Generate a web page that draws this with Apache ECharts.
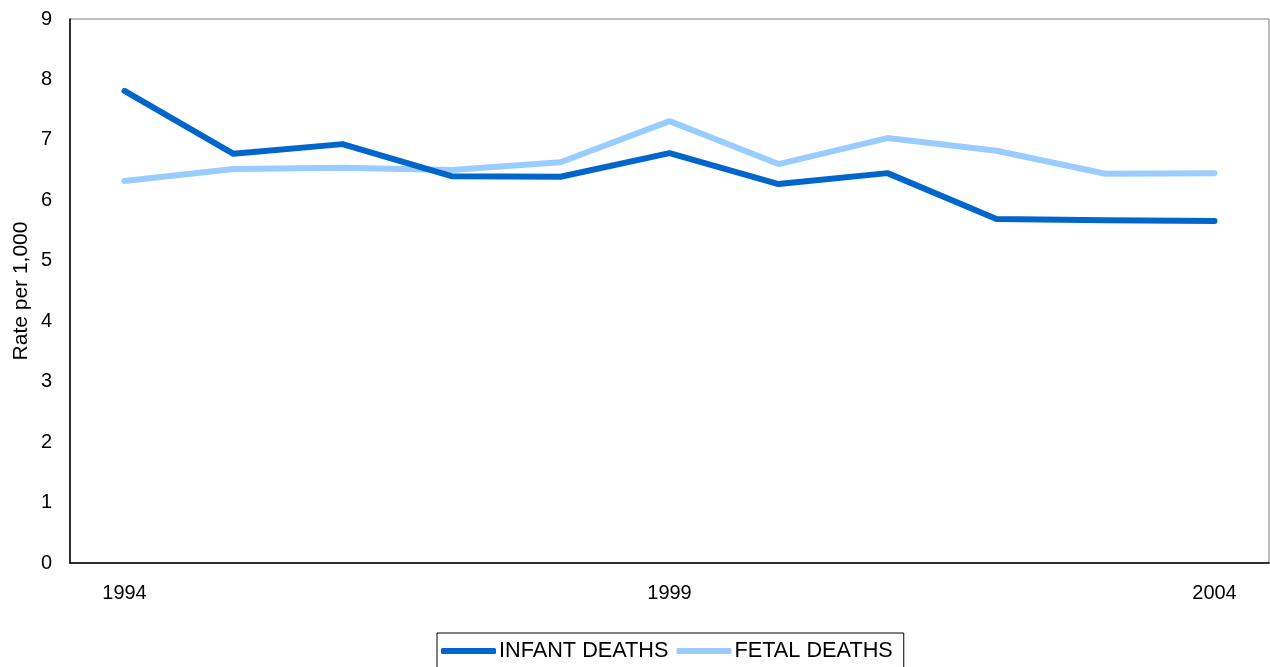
<!DOCTYPE html>
<html>
<head>
<meta charset="utf-8">
<script src="https://cdn.jsdelivr.net/npm/echarts@6/dist/echarts.min.js"></script>
<style>
  html, body { margin: 0; padding: 0; background: #fff; }
  #chart { width: 1270px; height: 667px; }
</style>
</head>
<body>
<div id="chart"></div>
<script>
// Rates per 1,000, by year
const years = ['1994', '1995', '1996', '1997', '1998', '1999', '2000', '2001', '2002', '2003', '2004'];
const infantDeaths = [7.81, 6.77, 6.93, 6.40, 6.39, 6.78, 6.27, 6.45, 5.69, 5.67, 5.66];
const fetalDeaths  = [6.32, 6.52, 6.54, 6.50, 6.63, 7.31, 6.60, 7.03, 6.82, 6.44, 6.45];
const yTicks = { min: 0, max: 9, interval: 1 };

const font = 'Liberation Sans, Arial, sans-serif';
const chart = echarts.init(document.getElementById('chart'), null, { renderer: 'canvas' });

chart.setOption({
  animation: false,
  backgroundColor: '#ffffff',
  grid: {
    left: 70, top: 19, right: 1, bottom: 104,
    containLabel: false,
    outerBoundsMode: 'none',
    show: true, borderColor: '#808080', borderWidth: 1
  },
  legend: {
    top: 633,
    left: 437,
    data: ['INFANT DEATHS', 'FETAL DEATHS'],
    icon: 'roundRect',
    itemWidth: 55,
    itemHeight: 6,
    itemGap: 8,
    padding: [7, 11, 14, 4],
    borderColor: '#000000',
    borderWidth: 1,
    textStyle: { fontFamily: font, fontSize: 21.7, color: '#000', padding: [0, 0, 0, -2] }
  },
  xAxis: {
    type: 'category',
    data: years,
    boundaryGap: true,
    axisLine: { lineStyle: { color: '#000', width: 1.5 } },
    axisTick: { show: false },
    axisLabel: { interval: 4, margin: 20, fontFamily: font, fontSize: 20, color: '#000' },
    splitLine: { show: false }
  },
  yAxis: {
    type: 'value',
    min: yTicks.min, max: yTicks.max, interval: yTicks.interval,
    name: 'Rate per 1,000',
    nameLocation: 'middle',
    nameGap: 38,
    nameMoveOverlap: false,
    nameRotate: 90,
    nameTextStyle: { fontFamily: font, fontSize: 21, color: '#000' },
    axisLine: { show: true, lineStyle: { color: '#000', width: 1.5 } },
    axisTick: { show: false },
    axisLabel: { margin: 18, fontFamily: font, fontSize: 20, color: '#000' },
    splitLine: { show: false }
  },
  series: [
    {
      name: 'INFANT DEATHS',
      type: 'line',
      data: infantDeaths,
      color: '#0066CC',
      symbol: 'none',
      lineStyle: { width: 6, color: '#0066CC', cap: 'round', join: 'round' }
    },
    {
      name: 'FETAL DEATHS',
      type: 'line',
      data: fetalDeaths,
      color: '#99CCFF',
      symbol: 'none',
      z: 1,
      lineStyle: { width: 6, color: '#99CCFF', cap: 'round', join: 'round' }
    }
  ]
});
</script>
</body>
</html>
